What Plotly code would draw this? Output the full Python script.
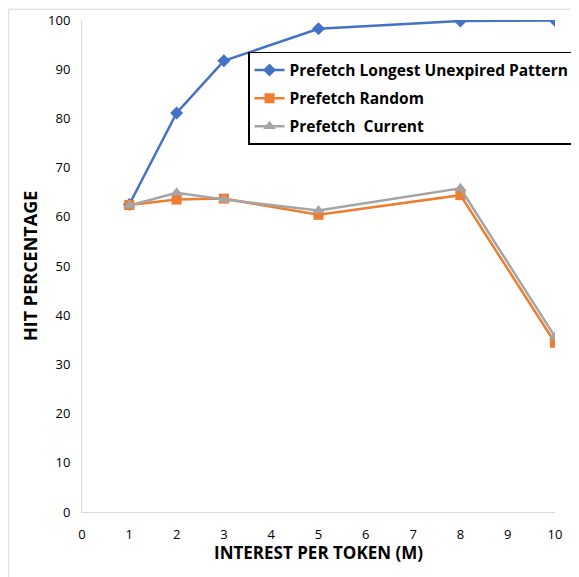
import plotly.graph_objects as go

x_vals = [1, 2, 3, 5, 8, 10]
longest = [62.5, 81.1, 91.7, 98.2, 99.8, 99.9]
random_ = [62.4, 63.5, 63.7, 60.4, 64.4, 34.4]
current = [62.3, 64.9, 63.5, 61.3, 65.8, 35.6]

fig = go.Figure()
fig.add_trace(go.Scatter(x=x_vals, y=longest, mode="lines+markers",
                         name="Prefetch Longest Unexpired Pattern", legendgroup="a",
                         line=dict(color="#4472C4", width=2.5),
                         marker=dict(symbol="diamond", size=10, color="#4472C4")))
fig.add_trace(go.Scatter(x=x_vals, y=random_, mode="lines+markers",
                         name="Prefetch Random", legendgroup="b",
                         line=dict(color="#ED7D31", width=2.5),
                         marker=dict(symbol="square", size=10, color="#ED7D31")))
fig.add_trace(go.Scatter(x=x_vals, y=current, mode="lines+markers",
                         name="Prefetch  Current", legendgroup="c",
                         line=dict(color="#A5A5A5", width=2.5),
                         marker=dict(symbol="triangle-up", size=11, color="#A5A5A5")))

font_family = "Open Sans, Liberation Sans, Arial"
fig.update_layout(
    width=571, height=569,
    margin=dict(l=74, r=24, t=12, b=65, autoexpand=False),
    paper_bgcolor="white", plot_bgcolor="white",
    font=dict(family=font_family, size=13, color="#000000"),
    showlegend=True,
    legend=dict(x=0.351, y=0.935, xanchor="left", yanchor="top",
                bordercolor="#000000", borderwidth=1.5, bgcolor="white",
                font=dict(size=15.5, color="#000000", family=font_family, weight="bold"),
                tracegroupgap=5, itemwidth=30),
    xaxis=dict(range=[0, 10], dtick=1, tick0=0, showgrid=False, zeroline=False,
               showline=True, linecolor="#D9D9D9", linewidth=1, automargin=False,
               ticks="outside", ticklen=10, tickcolor="rgba(0,0,0,0)", tickfont=dict(size=13)),
    yaxis=dict(range=[0, 100], dtick=10, showgrid=False, zeroline=False,
               showline=True, linecolor="#D9D9D9", linewidth=1, automargin=False,
               ticks="outside", ticklen=8, tickcolor="rgba(0,0,0,0)", tickfont=dict(size=13)),
    annotations=[
        dict(text="<b>INTEREST PER TOKEN (M)</b>", xref="paper", yref="paper",
             x=0.499, y=-0.083, xanchor="center", yanchor="middle", showarrow=False,
             font=dict(size=17, family=font_family)),
        dict(text="<b>HIT PERCENTAGE</b>", xref="paper", yref="paper",
             x=-0.110, y=0.5, xanchor="center", yanchor="middle", showarrow=False,
             textangle=-90, font=dict(size=18, family=font_family)),
    ],
)
fig.add_shape(type="rect", xref="paper", yref="paper",
              x0=-0.155, x1=1.1, y0=-0.2, y1=1.022,
              line=dict(color="#D9D9D9", width=1))
fig.write_html("out.html")
